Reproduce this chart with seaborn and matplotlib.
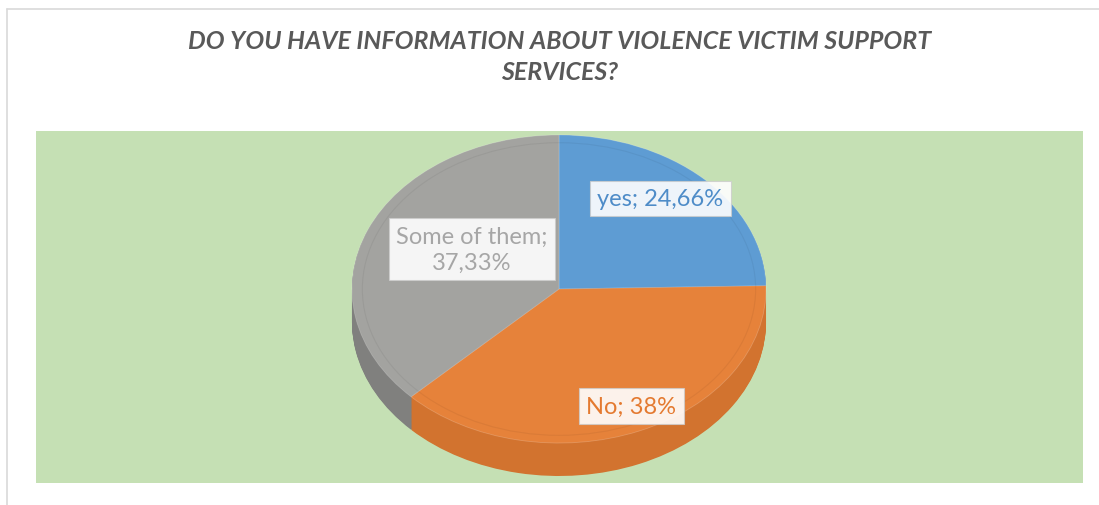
import numpy as np
import matplotlib
matplotlib.use("Agg")
import matplotlib.pyplot as plt
from matplotlib.patches import Ellipse
from matplotlib.lines import Line2D
import seaborn as sns

# Survey answers and their shares (percent)
categories = ["yes", "No", "Some of them"]
shares = [24.66, 38.0, 37.33]
label_separators = ["; ", "; ", ";\n"]

title_text = "DO YOU HAVE INFORMATION ABOUT VIOLENCE VICTIM SUPPORT\nSERVICES?"

sns.set_theme(style="white")
plt.rcParams["font.family"] = ["Lato", "DejaVu Sans"]

top_colors = sns.color_palette(["#5E9CD3", "#E6823A", "#A3A3A0"])
side_colors = sns.color_palette(["#4A7FB0", "#D2732F", "#80807E"])
text_colors = ["#4E8CC8", "#E47A30", "#A6A6A6"]

W, H = 1099, 506
fig = plt.figure(figsize=(W / 100, H / 100), dpi=100)
fig.patch.set_facecolor("white")

# chart frame (top and left edge)
fig.add_artist(Line2D([7 / W, 1.0], [1 - 10 / H, 1 - 10 / H], color="#D9D9D9", lw=1.2))
fig.add_artist(Line2D([7 / W, 7 / W], [0, 1 - 10 / H], color="#D9D9D9", lw=1.2))

# plot area
bg = fig.add_axes([36 / W, 1 - 484 / H, (1083 - 36) / W, (484 - 132) / H])
bg.set_facecolor("#C5E0B4")
bg.set_xticks([])
bg.set_yticks([])
for s in bg.spines.values():
    s.set_visible(False)

# tilted pie: x unit = 207 px, y unit = 154 px
depth = 0.214
ax = fig.add_axes([352 / W, 1 - 477 / H, 414 / W, 341 / H])
ax.set_facecolor("none")

n_layers = 40
for dy in np.linspace(-depth, -0.004, n_layers):
    ax.pie(shares, colors=side_colors, startangle=90, counterclock=False,
           center=(0, dy), radius=1.0, wedgeprops=dict(linewidth=0))

ax.pie(shares, colors=top_colors, startangle=90, counterclock=False,
       center=(0, 0), radius=1.0,
       wedgeprops=dict(linewidth=0.6, edgecolor=(1, 1, 1, 0.2)))

# soft bevel ring on the top face
ax.add_patch(Ellipse((0, 0), 1.9, 1.9, fill=False, lw=0.8,
                     edgecolor=(0, 0, 0, 0.05)))

ax.set_aspect("auto")
ax.set_xlim(-1, 1)
ax.set_ylim(-1 - depth, 1)
ax.axis("off")

# data labels
label_pos = [(0.49, 0.59), (0.35, -0.76), (-0.42, 0.26)]
for cat, val, sep, (lx, ly), tc in zip(categories, shares, label_separators,
                                       label_pos, text_colors):
    txt = f"{cat}{sep}{val:g}%".replace(".", ",")
    ax.text(lx, ly, txt, ha="center", va="center", fontsize=17, color=tc,
            linespacing=1.3,
            bbox=dict(boxstyle="square,pad=0.3", fc=(1, 1, 1, 0.9),
                      ec=(0.8, 0.8, 0.8, 0.8), lw=0.8))

fig.text(560 / W, 1 - 57 / H, title_text, ha="center", va="center",
         fontsize=18, fontweight="bold", fontstyle="italic", color="#595959",
         linespacing=1.45)

fig.savefig("out.png", dpi=100)
